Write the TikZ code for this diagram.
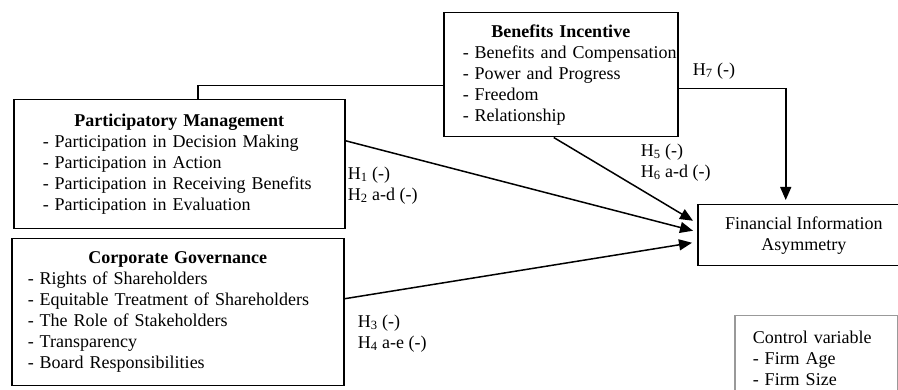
\documentclass[tikz,border=0pt]{standalone}
\usepackage{fontspec}
\setmainfont{Liberation Serif}
\usetikzlibrary{positioning,arrows.meta,calc}

\begin{document}
\begin{tikzpicture}[x=1pt, y=-1pt, line width=1.5pt]
    \fontsize{18}{21}\selectfont

    % Frame
    \useasboundingbox (0,0) rectangle (898,390);
    \clip (0,0) rectangle (898,390);

    % Shapes
    \tikzstyle{factor}=[rectangle, draw, anchor=north west, inner ysep=4pt, execute at begin node=\setlength{\parindent}{0pt}]
    \tikzstyle{outcome}=[rectangle, draw, anchor=north west, align=center, minimum width=212pt, minimum height=61pt]
    \tikzstyle{hyp}=[anchor=west, align=left, inner sep=0pt]
    \tikzstyle{link}=[-{Triangle[length=13pt, width=11pt]}]

    % Factors
    \node[factor, inner xsep=29pt, text width=273pt, minimum height=129pt] at (13,99) (pm) {{\centering\textbf{Participatory Management}\par}- Participation in Decision Making\\ - Participation in Action\\ - Participation in Receiving Benefits\\ - Participation in Evaluation};
    \node[factor, inner xsep=19pt, text width=196pt, minimum height=124pt] at (443,12) (bi) {{\centering\textbf{Benefits Incentive}\par}\mbox{- Benefits and Compensation}\\ - Power and Progress\\ - Freedom\\ - Relationship};
    \node[factor, inner xsep=16pt, text width=300pt, minimum height=147pt] at (11,238) (cg) {{\centering\textbf{Corporate Governance}\par}- Rights of Shareholders\\ - Equitable Treatment of Shareholders\\ - The Role of Stakeholders\\ - Transparency\\ - Board Responsibilities};

    % Outcome and control
    \node[outcome] at (697,204) (fia) {Financial Information\\Asymmetry};
    \node[factor, draw=gray!80, inner xsep=18pt, inner ysep=15pt, text width=127pt] at (734,315) (ctrl) {Control variable\\ - Firm Age\\ - Firm Size};

    % Arrows
    \draw ([xshift=18.5pt]pm.north) |- ([yshift=-11pt]bi.west);
    \draw[link] ([yshift=23.5pt]pm.east) -- ([xshift=-4pt, yshift=4.5pt]fia.west);
    \draw[link] ([xshift=-7pt]bi.south) -- ([xshift=-4pt, yshift=14.5pt]fia.west);
    \draw[link] ([yshift=13.5pt]cg.east) -- ([xshift=-5pt, yshift=-7.5pt]fia.west);
    \draw[link] ([yshift=-14pt]bi.east) -| ([xshift=-18pt, yshift=4pt]fia.north);

    % Hypotheses
    \node[hyp] at (347,185.5) (hOne) {H\textsubscript{1} (-)\\H\textsubscript{2} a-d (-)};
    \node[hyp] at (640,162.5) (hFive) {H\textsubscript{5} (-)\\H\textsubscript{6} a-d (-)};
    \node[hyp] at (692,71) (hSeven) {H\textsubscript{7} (-)};
    \node[hyp] at (357,333.5) (hThree) {H\textsubscript{3} (-)\\H\textsubscript{4} a-e (-)};
\end{tikzpicture}
\end{document}
